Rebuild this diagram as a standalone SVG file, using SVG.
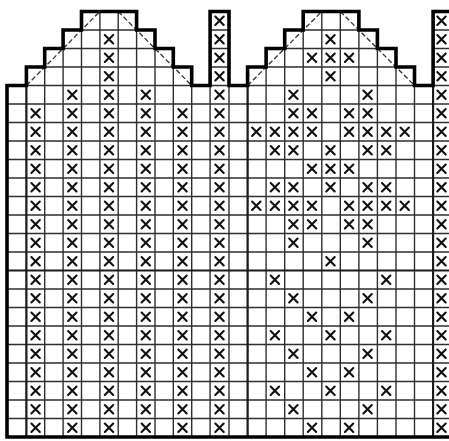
<svg xmlns="http://www.w3.org/2000/svg" xmlns:xlink="http://www.w3.org/1999/xlink" width="449" height="441" viewBox="0 0 449 441">
<style>
 .grid{fill:none;stroke:#2e2e2e;stroke-width:1.4}
 .major{fill:none;stroke:#1a1a1a;stroke-width:2.1}
 .outline{fill:none;stroke:#000;stroke-width:3.6;stroke-linejoin:miter}
 .diag{fill:none;stroke:#333;stroke-width:1.3;stroke-dasharray:5 2.5}
 .xm{fill:none;stroke:#111;stroke-width:2.1;stroke-linecap:round}
</style>
<defs>
 <path id="shape" d="M7,437 V85.5 H26.4 V67 H44.7 V48.5 H63.1 V30 H81.5 V11.5 H136.6 V30 H155 V48.5 H173.3 V67 H191.7 V85.5 H210.1 V11.5 H229 V85.5 H247.6 V67 H266.1 V48.5 H284.7 V30 H303.2 V11.5 H358.9 V30 H377.4 V48.5 H396 V67 H414.5 V85.5 H433.1 V11.5 H452 V437 Z"/>
 <clipPath id="clip"><use href="#shape"/></clipPath>
 <path id="m" class="xm" d="M-4.2,-4.2L4.2,4.2M4.2,-4.2L-4.2,4.2"/>
 <g id="run">
  <use href="#m" y="113.25"/><use href="#m" y="131.75"/><use href="#m" y="150.25"/><use href="#m" y="168.75"/>
  <use href="#m" y="187.25"/><use href="#m" y="205.75"/><use href="#m" y="224.25"/><use href="#m" y="242.75"/>
  <use href="#m" y="261.25"/><use href="#m" y="279.75"/><use href="#m" y="298.25"/><use href="#m" y="316.75"/>
  <use href="#m" y="335.25"/><use href="#m" y="353.75"/><use href="#m" y="372.25"/><use href="#m" y="390.75"/>
  <use href="#m" y="409.25"/><use href="#m" y="427.75"/>
 </g>
 <g id="top">
  <use href="#m" y="39.25"/><use href="#m" y="57.75"/><use href="#m" y="76.25"/><use href="#m" y="94.75"/>
 </g>
</defs>
<rect width="449" height="441" fill="#fff"/>
<g id="grid" clip-path="url(#clip)">
 <path class="grid" d="M26.4,0V441M44.7,0V441M63.1,0V441M81.5,0V441M99.9,0V441M118.2,0V441M136.6,0V441M155,0V441M173.3,0V441M191.7,0V441M210.1,0V441M229,0V441M247.6,0V441M266.1,0V441M284.7,0V441M303.2,0V441M321.8,0V441M340.3,0V441M358.9,0V441M377.4,0V441M396,0V441M414.5,0V441M433.1,0V441"/>
 <path class="grid" d="M0,30H452M0,48.5H452M0,67H452M0,85.5H452M0,104H452M0,122.5H452M0,141H452M0,159.5H452M0,178H452M0,196.5H452M0,215H452M0,233.5H452M0,252H452M0,289H452M0,307.5H452M0,326H452M0,344.5H452M0,363H452M0,381.5H452M0,400H452M0,418.5H452"/>
 <path class="major" d="M0,270.5H452M26.4,85.5V437M247.6,85.5V437M433.1,85.5V437"/>
</g>
<g id="diagonals">
 <path class="diag" d="M26.4,85.5L99.9,11.5M118.2,11.5L191.7,85.5M247.6,85.5L321.8,11.5M340.3,11.5L414.5,85.5"/>
</g>
<g id="outline">
 <use href="#shape" class="outline"/>
</g>
<g id="left-mitten-marks">
 <use href="#run" x="35.6"/>
 <use href="#run" x="72.3"/><use href="#m" x="72.3" y="94.75"/>
 <use href="#run" x="109"/><use href="#top" x="109"/>
 <use href="#run" x="145.8"/><use href="#m" x="145.8" y="94.75"/>
 <use href="#run" x="182.5"/>
</g>
<g id="center-strip">
 <use href="#run" x="219.5"/><use href="#top" x="219.5"/><use href="#m" x="219.5" y="20.75"/>
</g>
<g id="right-strip">
 <use href="#run" x="441.5"/><use href="#top" x="441.5"/><use href="#m" x="441.5" y="20.75"/>
</g>
<g id="right-mitten-marks">
 <use href="#m" x="330.5" y="39.25"/>
 <use href="#m" x="312" y="57.75"/><use href="#m" x="330.5" y="57.75"/><use href="#m" x="349.1" y="57.75"/>
 <use href="#m" x="330.5" y="76.25"/>
 <use href="#m" x="293.4" y="94.75"/><use href="#m" x="367.6" y="94.75"/>
 <use href="#m" x="293.4" y="113.25"/><use href="#m" x="312" y="113.25"/><use href="#m" x="349.1" y="113.25"/><use href="#m" x="367.6" y="113.25"/>
 <use href="#m" x="256.3" y="131.75"/><use href="#m" x="274.9" y="131.75"/><use href="#m" x="293.4" y="131.75"/><use href="#m" x="312" y="131.75"/><use href="#m" x="349.1" y="131.75"/><use href="#m" x="367.6" y="131.75"/><use href="#m" x="386.2" y="131.75"/><use href="#m" x="404.7" y="131.75"/>
 <use href="#m" x="274.9" y="150.25"/><use href="#m" x="293.4" y="150.25"/><use href="#m" x="330.5" y="150.25"/><use href="#m" x="367.6" y="150.25"/><use href="#m" x="386.2" y="150.25"/>
 <use href="#m" x="312" y="168.75"/><use href="#m" x="330.5" y="168.75"/><use href="#m" x="349.1" y="168.75"/>
 <use href="#m" x="274.9" y="187.25"/><use href="#m" x="293.4" y="187.25"/><use href="#m" x="330.5" y="187.25"/><use href="#m" x="367.6" y="187.25"/><use href="#m" x="386.2" y="187.25"/>
 <use href="#m" x="256.3" y="205.75"/><use href="#m" x="274.9" y="205.75"/><use href="#m" x="293.4" y="205.75"/><use href="#m" x="312" y="205.75"/><use href="#m" x="349.1" y="205.75"/><use href="#m" x="367.6" y="205.75"/><use href="#m" x="386.2" y="205.75"/><use href="#m" x="404.7" y="205.75"/>
 <use href="#m" x="293.4" y="224.25"/><use href="#m" x="312" y="224.25"/><use href="#m" x="349.1" y="224.25"/><use href="#m" x="367.6" y="224.25"/>
 <use href="#m" x="293.4" y="242.75"/><use href="#m" x="367.6" y="242.75"/>
 <use href="#m" x="330.5" y="261.25"/>
 <use href="#m" x="274.9" y="279.75"/><use href="#m" x="386.2" y="279.75"/>
 <use href="#m" x="293.4" y="298.25"/><use href="#m" x="367.6" y="298.25"/>
 <use href="#m" x="312" y="316.75"/><use href="#m" x="349.1" y="316.75"/>
 <use href="#m" x="274.9" y="335.25"/><use href="#m" x="330.5" y="335.25"/><use href="#m" x="386.2" y="335.25"/>
 <use href="#m" x="293.4" y="353.75"/><use href="#m" x="367.6" y="353.75"/>
 <use href="#m" x="312" y="372.25"/><use href="#m" x="349.1" y="372.25"/>
 <use href="#m" x="274.9" y="390.75"/><use href="#m" x="330.5" y="390.75"/><use href="#m" x="386.2" y="390.75"/>
 <use href="#m" x="293.4" y="409.25"/><use href="#m" x="367.6" y="409.25"/>
 <use href="#m" x="312" y="427.75"/><use href="#m" x="349.1" y="427.75"/>
</g>
</svg>
